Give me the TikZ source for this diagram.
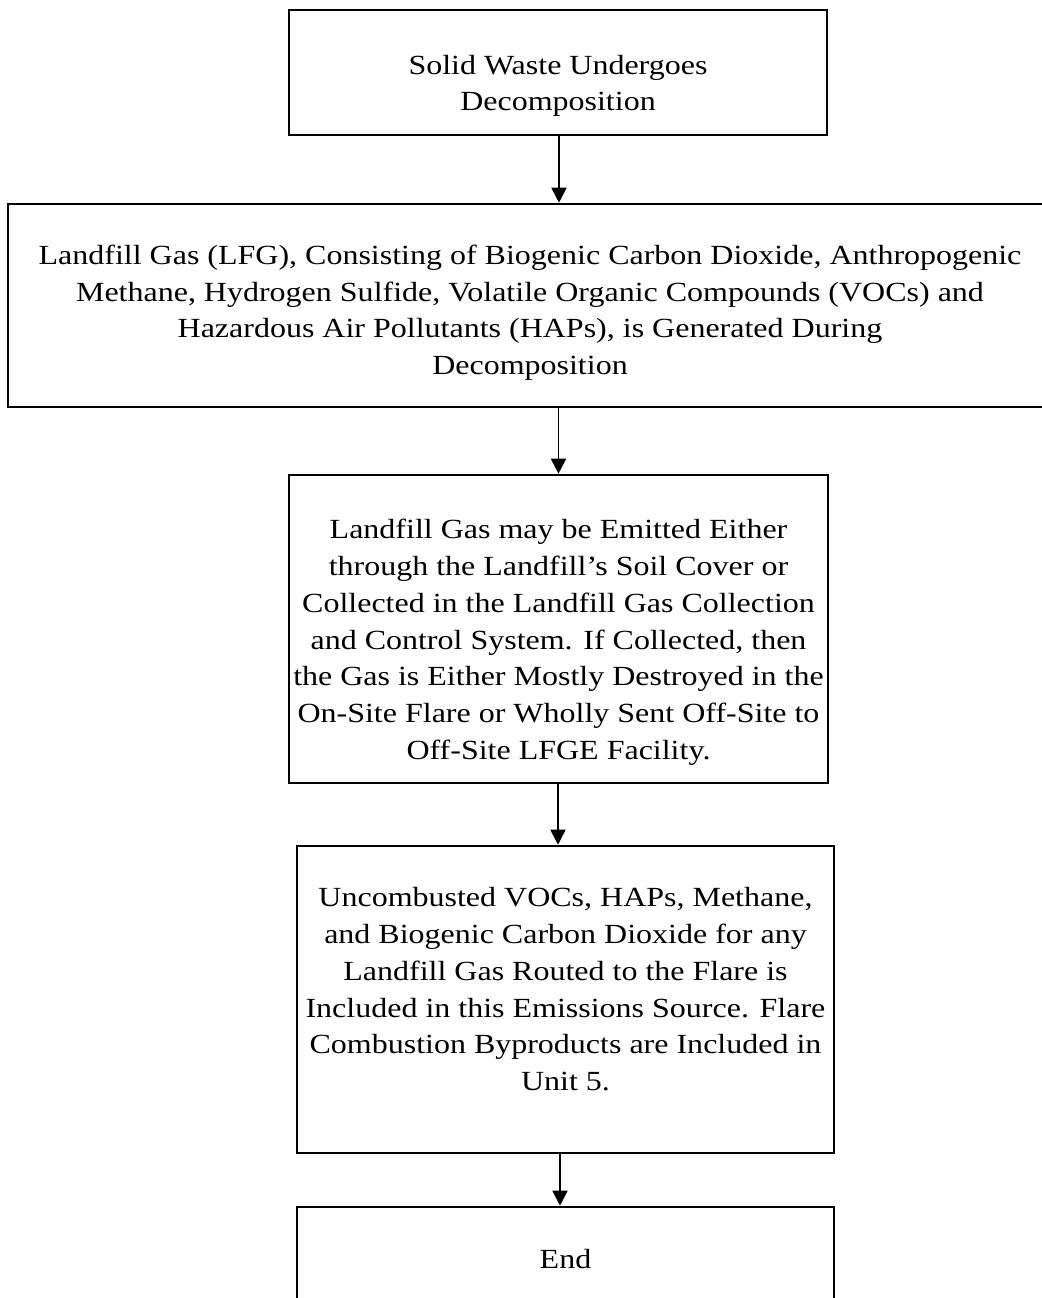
\documentclass[tikz,border=0pt]{standalone}
\usepackage{fontspec}
\setmainfont{Liberation Serif}[FakeStretch=1.155]
\usetikzlibrary{arrows.meta}
% a tall invisible strut on the first line lowers the centred text block
\newcommand{\lowerby}[1]{\rule{0pt}{#1}}
\begin{document}
\begin{tikzpicture}[x=0.5pt,y=-0.5pt,
  stepbox/.style={draw=black,line width=1.3pt,fill=white,align=center,
    inner sep=0pt,font=\fontsize{13.85}{18.35}\selectfont},
  flow/.style={draw=black,line width=0.9pt,
    -{Triangle[width=7.5pt,length=7.5pt]}}]
\useasboundingbox (0,0) rectangle (1042,1298);
\node[stepbox,minimum width=269pt,minimum height=62.5pt] (b1) at (558,72.5)
  {\lowerby{23pt}Solid Waste Undergoes\\Decomposition};
\node[stepbox,minimum width=522pt,minimum height=101.5pt] (b2) at (530,305.5)
  {\lowerby{17pt}Landfill Gas (LFG), Consisting of Biogenic Carbon Dioxide, Anthropogenic\\
   Methane, Hydrogen Sulfide, Volatile Organic Compounds (VOCs) and\\
   Hazardous Air Pollutants (HAPs), is Generated During\\
   Decomposition};
\node[stepbox,minimum width=269.5pt,minimum height=154pt] (b3) at (558.5,629)
  {\lowerby{23pt}Landfill Gas may be Emitted Either\\
   through the Landfill’s Soil Cover or\\
   Collected in the Landfill Gas Collection\\
   and Control System. If Collected, then\\
   the Gas is Either Mostly Destroyed in the\\
   On-Site Flare or Wholly Sent Off-Site to\\
   Off-Site LFGE Facility.};
\node[stepbox,minimum width=268.5pt,minimum height=153.5pt] (b4) at (565.5,999.5)
  {\lowerby{23pt}Uncombusted VOCs, HAPs, Methane,\\
   and Biogenic Carbon Dioxide for any\\
   Landfill Gas Routed to the Flare is\\
   Included in this Emissions Source. Flare\\
   Combustion Byproducts are Included in\\
   Unit 5.\\ \strut};
\node[stepbox,minimum width=268.5pt,minimum height=62.5pt] (b5) at (565.5,1269.5)
  {\lowerby{23pt}End\\ \strut};
% connectors between the steps
\coordinate (a1) at (559,0);
\coordinate (a3) at (558,0);
\coordinate (a4) at (560,0);
\draw[flow] (b1.south -| a1) -- (b2.north -| a1);
\draw[flow] (b2.south -| b3.north) -- (b3.north);
\draw[flow] (b3.south -| a3) -- (b4.north -| a3);
\draw[flow] (b4.south -| a4) -- (b5.north -| a4);
\end{tikzpicture}
\end{document}
